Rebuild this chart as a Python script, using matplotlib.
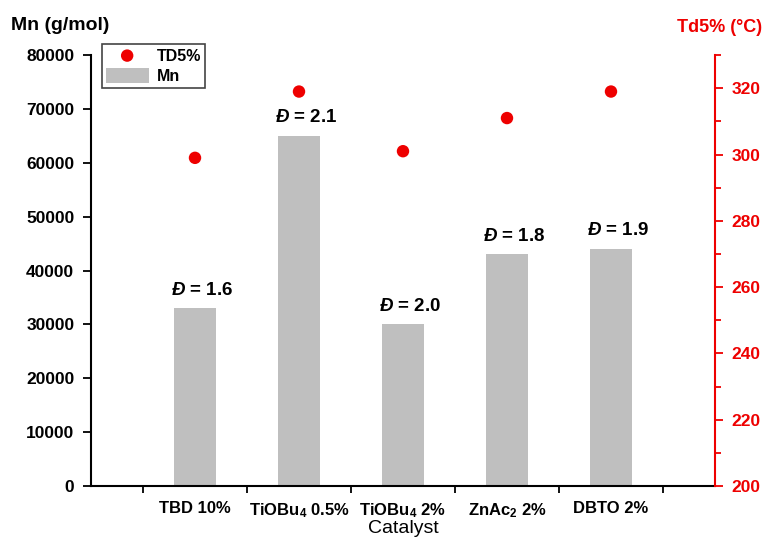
import numpy as np
import matplotlib.pyplot as plt
from matplotlib.ticker import MultipleLocator

plt.rcParams['font.family'] = ['Liberation Sans', 'DejaVu Sans']
plt.rcParams['mathtext.fontset'] = 'custom'
plt.rcParams['mathtext.rm'] = 'Liberation Sans:bold'
plt.rcParams['mathtext.it'] = 'Liberation Sans:bold:italic'
plt.rcParams['mathtext.bf'] = 'Liberation Sans:bold'

catalysts = ['TBD 10%', r'TiOBu$_4$ 0.5%', r'TiOBu$_4$ 2%', r'ZnAc$_2$ 2%', 'DBTO 2%']
mn = [33000, 65000, 30000, 43000, 44000]
td5 = [299, 319, 301, 311, 319]
dispersity = ['1.6', '2.1', '2.0', '1.8', '1.9']

red = '#ee0000'
fig = plt.figure(figsize=(7.66, 5.4), dpi=100)
ax = fig.add_axes([0.1188, 0.1, 0.8146, 0.798])
ax2 = ax.twinx()

x = np.arange(len(catalysts))
bars = ax.bar(x, mn, width=0.41, color='#bfbfbf', label='Mn', zorder=2)
pts = ax2.scatter(x, td5, s=80, color=red, label='TD5%', zorder=3, edgecolors='none')

for xi, m, d in zip(x, mn, dispersity):
    ax.annotate(r'$\mathit{Đ}$ = ' + d, (xi, m), xytext=(5, 7), textcoords='offset points',
                ha='center', va='bottom', fontsize=13.5, fontweight='bold')

ax.set_xlim(-1.0, 5.0)
ax.set_ylim(0, 80000)
ax2.set_ylim(200, 330)

ax.set_xticks(x)
ax.set_xticklabels(catalysts, fontsize=12, fontweight='bold')
ax.set_xticks(np.arange(-0.5, 5.0, 1), minor=True)
ax.tick_params(axis='x', which='major', length=0, pad=11)
ax.tick_params(axis='x', which='minor', length=5, width=1.3, direction='out')
ax.set_yticks(np.arange(0, 80001, 10000))
ax.tick_params(axis='y', length=6, width=1.3, labelsize=12.5, pad=6)
for lab in ax.get_yticklabels():
    lab.set_fontweight('bold')

ax2.yaxis.set_major_locator(MultipleLocator(20))
ax2.yaxis.set_minor_locator(MultipleLocator(10))
ax2.tick_params(axis='y', which='major', length=6, width=1.3, colors=red, labelsize=12.5, pad=6)
ax2.tick_params(axis='y', which='minor', length=4, width=1.3, colors=red)
for lab in ax2.get_yticklabels():
    lab.set_fontweight('bold')

ax.spines['top'].set_visible(False)
ax.spines['right'].set_visible(False)
ax2.spines['top'].set_visible(False)
ax2.spines['left'].set_visible(False)
ax2.spines['bottom'].set_visible(False)
for s in ['left', 'bottom']:
    ax.spines[s].set_linewidth(1.5)
ax2.spines['right'].set_linewidth(1.5)
ax2.spines['right'].set_color(red)

ax.set_xlabel('Catalyst', fontsize=14)
ax.xaxis.set_label_coords(0.5, -0.08)

fig.text(0.015, 0.953, 'Mn (g/mol)', fontsize=14, fontweight='bold', va='center')
fig.text(0.995, 0.95, 'Td5% (°C)', fontsize=13, fontweight='bold', color=red,
         va='center', ha='right')

leg = ax.legend([pts, bars], ['TD5%', 'Mn'], loc='upper left', bbox_to_anchor=(0.017, 1.025),
                fancybox=False, edgecolor='#444444', framealpha=1, handlelength=2.7,
                handleheight=1.05, borderpad=0.25, labelspacing=0.25, handletextpad=0.5,
                borderaxespad=0, prop={'weight': 'bold', 'size': 11.5})
leg.get_frame().set_linewidth(1.2)
leg.set_zorder(5)

fig.savefig('out.png', dpi=100)
